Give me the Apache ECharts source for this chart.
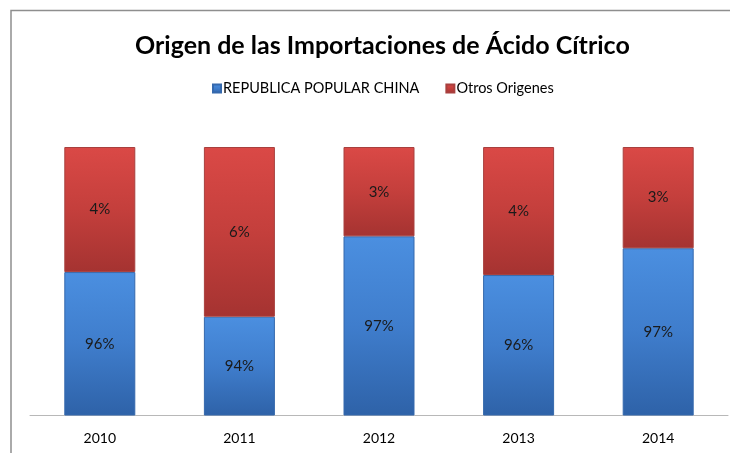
<!DOCTYPE html>
<html>
<head>
<meta charset="utf-8">
<script src="https://cdn.jsdelivr.net/npm/echarts@6/dist/echarts.min.js"></script>
<style>
  html, body { margin: 0; padding: 0; background: #fff; }
  #chart { width: 730px; height: 453px; }
</style>
</head>
<body>
<div id="chart"></div>
<script>
  const years = ['2010', '2011', '2012', '2013', '2014'];
  const china = [95.8, 94.3, 97.0, 95.7, 96.6];
  const otros = [4.2, 5.7, 3.0, 4.3, 3.4];
  const axisMin = 91;
  const axisMax = 100;

  const font = 'Lato, "Open Sans", sans-serif';
  const pct = (p) => Math.round(p.value) + '%';

  const chart = echarts.init(document.getElementById('chart'));
  chart.setOption({
    animation: false,
    title: {
      text: 'Origen de las Importaciones de Ácido Cítrico',
      left: 130,
      top: 28,
      textStyle: { fontFamily: font, fontSize: 25, fontWeight: 'bold', color: '#000' },
    },
    legend: {
      data: ['REPUBLICA POPULAR CHINA', 'Otros Origenes'],
      left: 207,
      top: 76,
      icon: 'rect',
      itemWidth: 8,
      itemHeight: 8,
      itemGap: 26,
      textStyle: { fontFamily: font, fontSize: 14.5, color: '#000', padding: [0, 0, 0, -3] },
    },
    graphic: [
      {
        type: 'rect',
        shape: { x: 11, y: 10.5, width: 800, height: 800 },
        style: { fill: 'none', stroke: '#8e8e8e', lineWidth: 1.5 },
        silent: true,
      },
    ],
    grid: { left: 30, right: 2, top: 147, bottom: 38 },
    xAxis: {
      type: 'category',
      data: years,
      axisTick: { show: false },
      axisLine: { lineStyle: { color: '#b8b8b8' } },
      axisLabel: { fontFamily: font, fontSize: 14, color: '#000', margin: 16 },
    },
    yAxis: {
      type: 'value',
      min: axisMin,
      max: axisMax,
      show: false,
      splitLine: { show: false },
    },
    series: [
      {
        name: 'REPUBLICA POPULAR CHINA',
        type: 'bar',
        stack: 'total',
        barWidth: 71,
        clip: true,
        data: china,
        itemStyle: {
          color: new echarts.graphic.LinearGradient(0, 0, 0, 1, [
            { offset: 0, color: '#4b8fe0' },
            { offset: 0.5, color: '#3f7dcc' },
            { offset: 1, color: '#2e62a8' },
          ]),
          borderColor: '#3569ad',
          borderWidth: 1,
        },
        label: { show: true, position: 'inside', formatter: pct, fontFamily: font, fontSize: 15, color: '#1a1a1a' },
      },
      {
        name: 'Otros Origenes',
        type: 'bar',
        stack: 'total',
        barWidth: 71,
        data: otros,
        itemStyle: {
          color: new echarts.graphic.LinearGradient(0, 0, 0, 1, [
            { offset: 0, color: '#da4946' },
            { offset: 0.5, color: '#c43f3c' },
            { offset: 1, color: '#a53331' },
          ]),
          borderColor: '#a8403e',
          borderWidth: 1,
        },
        label: { show: true, position: 'inside', formatter: pct, fontFamily: font, fontSize: 15, color: '#1a1a1a' },
      },
    ],
  });
</script>
</body>
</html>
